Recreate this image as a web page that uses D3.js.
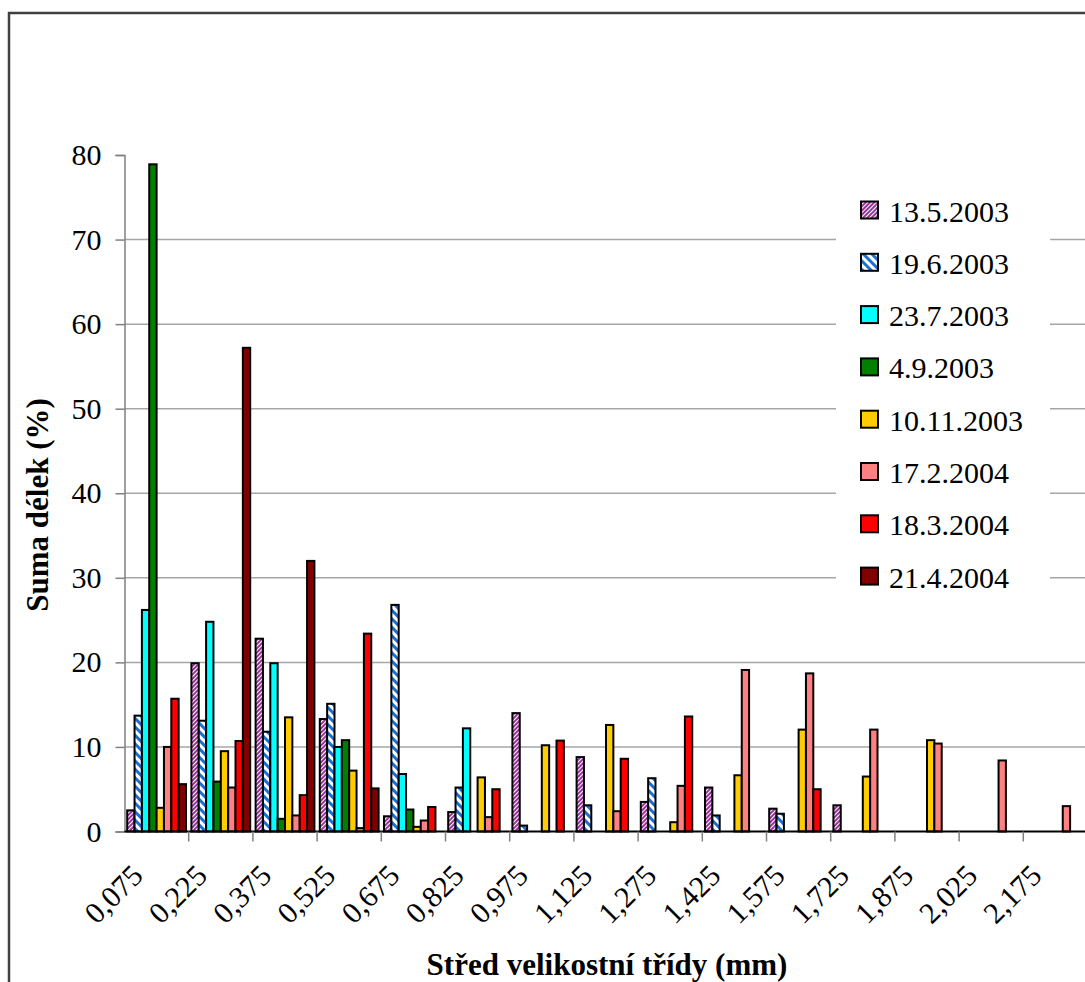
<!DOCTYPE html>
<html lang="cs">
<head>
    <meta charset="UTF-8">
    <title>Suma délek</title>
    <script src="https://d3js.org/d3.v7.min.js"></script>
    <style>
        body {
            margin: 0;
            background: #fff;
        }
        svg text {
            font-family: "Liberation Serif", "Times New Roman", serif;
            fill: #000;
        }
        .tick text {
            font-size: 30px;
        }
        .title {
            font-size: 31px;
            font-weight: bold;
        }
        .legend text {
            font-size: 30px;
        }
    </style>
</head>
<body>
    <div id="chart"></div>
    <script>
    // size classes (mm)
    const categories = ["0,075", "0,225", "0,375", "0,525", "0,675", "0,825", "0,975", "1,125",
                        "1,275", "1,425", "1,575", "1,725", "1,875", "2,025", "2,175"];

    const seriesNames = ["13.5.2003", "19.6.2003", "23.7.2003", "4.9.2003",
                         "10.11.2003", "17.2.2004", "18.3.2004", "21.4.2004"];

    // values, 0 = no bar
    const s13_5_2003  = [2.5, 19.9, 22.8, 13.3, 1.8, 2.3, 14.0, 8.8, 3.5, 5.2, 2.7, 3.1, 0, 0, 0];
    const s19_6_2003  = [13.7, 13.1, 11.8, 15.1, 26.8, 5.2, 0.7, 3.1, 6.3, 1.9, 2.1, 0, 0, 0, 0];
    const s23_7_2003  = [26.2, 24.8, 19.9, 10.0, 6.8, 12.2, 0, 0, 0, 0, 0, 0, 0, 0, 0];
    const s4_9_2003   = [78.9, 5.9, 1.5, 10.8, 2.6, 0, 0, 0, 0, 0, 0, 0, 0, 0, 0];
    const s10_11_2003 = [2.8, 9.5, 13.5, 7.2, 0.55, 6.4, 10.2, 12.6, 1.1, 6.65, 12.05, 6.5, 10.8, 0, 0];
    const s17_2_2004  = [10.0, 5.2, 1.9, 0.4, 1.3, 1.7, 0, 2.4, 5.4, 19.1, 18.7, 12.05, 10.4, 8.4, 3.0];
    const s18_3_2004  = [15.7, 10.7, 4.3, 23.4, 2.9, 5.0, 10.75, 8.6, 13.6, 0, 5.0, 0, 0, 0, 0];
    const s21_4_2004  = [5.6, 57.2, 32.0, 5.1, 0, 0, 0, 0, 0, 0, 0, 0, 0, 0, 0];

    const yTicks = [0, 10, 20, 30, 40, 50, 60, 70, 80];

    const seriesValues = [s13_5_2003, s19_6_2003, s23_7_2003, s4_9_2003,
                          s10_11_2003, s17_2_2004, s18_3_2004, s21_4_2004];
    const fills = ["url(#hatchPurple)", "url(#hatchBlue)", "#00ffff", "#008000",
                   "#ffcc00", "#ff8080", "#ff0000", "#800000"];

    const W = 1085, H = 982;
    const plotLeft = 124.5, plotRight = 124.5 + 15 * 64.2, plotTop = 155, plotBottom = 831.5;

    const svg = d3.select("#chart").append("svg")
        .attr("width", W)
        .attr("height", H)
        .style("display", "block");

    // patterns for the two hatched series
    const defs = svg.append("defs");
    const pPurple = defs.append("pattern")
        .attr("id", "hatchPurple")
        .attr("patternUnits", "userSpaceOnUse")
        .attr("width", 3).attr("height", 3)
        .attr("patternTransform", "rotate(45)");
    pPurple.append("rect").attr("width", 3).attr("height", 3).attr("fill", "#fff");
    pPurple.append("rect").attr("width", 2).attr("height", 3).attr("fill", "#993399");

    const pBlue = defs.append("pattern")
        .attr("id", "hatchBlue")
        .attr("patternUnits", "userSpaceOnUse")
        .attr("width", 6).attr("height", 6)
        .attr("patternTransform", "rotate(-45)");
    pBlue.append("rect").attr("width", 6).attr("height", 6).attr("fill", "#fff");
    pBlue.append("rect").attr("width", 3).attr("height", 6).attr("fill", "#1a6fd0");

    // outer frame
    svg.append("path")
        .attr("d", `M9,${H} V13 H${W}`)
        .attr("fill", "none")
        .attr("stroke", "#404040")
        .attr("stroke-width", 2.5);

    // scales
    const x0 = d3.scaleBand()
        .domain(categories)
        .range([plotLeft, plotRight])
        .paddingInner(0)
        .paddingOuter(0);

    const x1 = d3.scaleBand()
        .domain(seriesNames)
        .range([0, x0.bandwidth()])
        .paddingInner(0)
        .paddingOuter(0.367);

    const y = d3.scaleLinear()
        .domain([0, 80])
        .range([plotBottom, plotTop]);

    // gridlines
    svg.append("g")
        .selectAll("line")
        .data(yTicks.filter(t => t > 0 && t < 80))
        .enter()
        .append("line")
        .attr("x1", plotLeft)
        .attr("x2", W)
        .attr("y1", d => y(d))
        .attr("y2", d => y(d))
        .attr("stroke", "#a6a6a6")
        .attr("stroke-width", 1.5);

    // bars
    const rows = [];
    seriesValues.forEach((vals, si) => {
        vals.forEach((v, ci) => {
            if (v > 0) rows.push({ s: seriesNames[si], c: categories[ci], v: v, fill: fills[si] });
        });
    });

    svg.append("g")
        .selectAll("rect")
        .data(rows)
        .enter()
        .append("rect")
        .attr("x", d => x0(d.c) + x1(d.s))
        .attr("y", d => y(d.v))
        .attr("width", x1.bandwidth())
        .attr("height", d => y(0) - y(d.v))
        .attr("fill", d => d.fill)
        .attr("stroke", "#000")
        .attr("stroke-width", 2);

    // y axis
    const yAxis = svg.append("g")
        .attr("transform", `translate(${plotLeft},0)`)
        .call(d3.axisLeft(y).tickValues(yTicks).tickSize(9).tickPadding(14));
    yAxis.attr("font-family", null).attr("font-size", null);
    yAxis.select(".domain").attr("stroke", "#808080").attr("stroke-width", 1.5);
    yAxis.selectAll(".tick line").attr("stroke", "#808080").attr("stroke-width", 1.5);

    // x axis, ticks between classes
    const xAxis = svg.append("g")
        .attr("transform", `translate(0,${plotBottom})`);
    xAxis.append("line")
        .attr("x1", plotLeft).attr("x2", W)
        .attr("stroke", "#000").attr("stroke-width", 2);
    xAxis.selectAll(".xt")
        .data(categories.slice(1))
        .enter()
        .append("line")
        .attr("x1", d => x0(d)).attr("x2", d => x0(d))
        .attr("y1", 0).attr("y2", 10)
        .attr("stroke", "#808080").attr("stroke-width", 1.5);
    xAxis.selectAll(".xl")
        .data(categories)
        .enter()
        .append("text")
        .style("font-size", "30px")
        .attr("text-anchor", "end")
        .attr("transform", d => `translate(${x0(d) + x0.bandwidth() / 2 - 12},46) rotate(-45)`)
        .text(d => d);

    // legend on white box
    const legend = svg.append("g").attr("class", "legend");
    legend.append("rect")
        .attr("x", 836).attr("y", 185)
        .attr("width", 214).attr("height", 415)
        .attr("fill", "#fff");
    const item = legend.selectAll(".item")
        .data(seriesNames)
        .enter()
        .append("g")
        .attr("transform", (d, i) => `translate(861,${201.5 + 52.3 * i})`);
    item.append("rect")
        .attr("width", 17).attr("height", 17)
        .attr("fill", (d, i) => fills[i])
        .attr("stroke", "#000")
        .attr("stroke-width", 2);
    item.append("text")
        .attr("x", 28)
        .attr("y", 20)
        .text(d => d);

    // axis titles
    svg.append("text")
        .attr("class", "title")
        .attr("text-anchor", "middle")
        .attr("transform", "translate(48,505) rotate(-90)")
        .text("Suma délek (%)");

    svg.append("text")
        .attr("class", "title")
        .attr("text-anchor", "middle")
        .attr("x", 607)
        .attr("y", 975)
        .text("Střed velikostní třídy (mm)");
    </script>
</body>
</html>
